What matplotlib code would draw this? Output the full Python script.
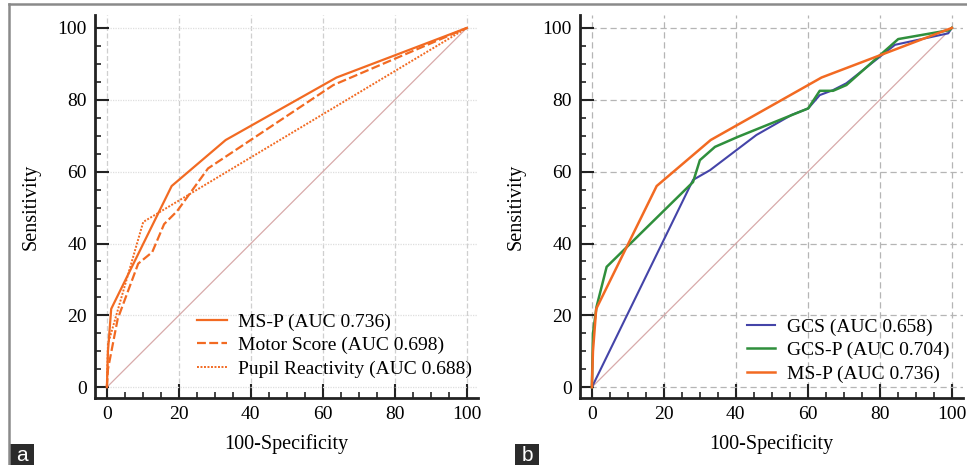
import numpy as np
import matplotlib.pyplot as plt
from matplotlib.ticker import MultipleLocator
from matplotlib.patches import Rectangle
from matplotlib.lines import Line2D

plt.rcParams["font.family"] = ["Liberation Serif", "DejaVu Serif"]

# Panel a curves (100-Specificity, Sensitivity)
msp_x = [0, 0.3, 1.2, 18.0, 33.0, 63.8, 100]
msp_y = [0, 10, 21.8, 56.0, 68.8, 86.2, 100]
motor_x = [0, 0.3, 3.0, 8.7, 12.6, 15.9, 19.5, 28.1, 62.9, 100]
motor_y = [0, 5, 19, 34.4, 37.6, 45.4, 49.0, 60.9, 84.1, 100]
pupil_x = [0, 0.3, 10.1, 100]
pupil_y = [0, 12, 46.0, 100]

# Panel b curves
gcs_x = [0, 28.1, 32.8, 45.7, 55.5, 60.1, 63.3, 67.0, 70.7, 84.2, 99.0, 100]
gcs_y = [0, 57.7, 60.4, 70.2, 75.8, 77.6, 81.3, 82.7, 84.6, 95.3, 98.5, 100]
gcsp_x = [0, 0.3, 1.3, 4.1, 28.1, 30.0, 34.2, 40.6, 60.1, 63.3, 67.0, 70.7, 85.1, 99.4, 100]
gcsp_y = [0, 15, 22.4, 33.5, 57.1, 63.2, 66.9, 69.7, 77.6, 82.5, 82.5, 84.1, 96.9, 99.4, 100]

labels_a = ["MS-P (AUC 0.736)", "Motor Score (AUC 0.698)", "Pupil Reactivity (AUC 0.688)"]
labels_b = ["GCS (AUC 0.658)", "GCS-P (AUC 0.704)", "MS-P (AUC 0.736)"]
ticks = [0, 20, 40, 60, 80, 100]

orange = "#f26a22"
blue = "#4444a8"
green = "#2f8f3c"
diag = "#d8aaaa"

W, H = 967, 465
fig = plt.figure(figsize=(W / 100, H / 100), dpi=100)


def style_axes(ax, panel):
    ax.set_xlim(-3.3, 103.1)
    ax.set_ylim(-3.0, 103.6)
    ax.set_xticks(ticks)
    ax.set_yticks(ticks)
    ax.xaxis.set_minor_locator(MultipleLocator(5))
    ax.yaxis.set_minor_locator(MultipleLocator(5))
    ax.tick_params(which="major", direction="in", length=10, width=1.5, labelsize=14, pad=6, color="#222222")
    ax.tick_params(which="minor", direction="in", length=4, width=1.2, color="#222222")
    for s in ["top", "right"]:
        ax.spines[s].set_visible(False)
    for s in ["left", "bottom"]:
        ax.spines[s].set_linewidth(2)
        ax.spines[s].set_color("#222222")
    if panel == "a":
        ax.xaxis.grid(True, ls=(0, (4, 2)), color="#cfcfcf", lw=0.9)
        ax.yaxis.grid(True, ls=(0, (1, 1)), color="#dedede", lw=0.9)
    else:
        ax.grid(True, ls=(0, (5, 3)), color="#b5b5b5", lw=0.9)
    ax.set_axisbelow(True)
    ax.set_xlabel("100-Specificity", fontsize=14.5, labelpad=8)
    ax.set_ylabel("Sensitivity", fontsize=14.5, labelpad=12)
    ax.plot([0, 100], [0, 100], color=diag, lw=0.9)


ax1 = fig.add_axes([95 / W, 1 - 398 / H, 383 / W, 383 / H])
style_axes(ax1, "a")
ax1.plot(msp_x, msp_y, color=orange, lw=1.6, label=labels_a[0])
ax1.plot(motor_x, motor_y, color=orange, lw=1.6, ls=(0, (4, 1.5)), label=labels_a[1])
ax1.plot(pupil_x, pupil_y, color=orange, lw=1.4, ls=(0, (1, 0.8)), label=labels_a[2])
ax1.legend(loc="upper left", bbox_to_anchor=(197 / W, 1 - 313 / H), bbox_transform=fig.transFigure,
           frameon=False, fontsize=14, borderpad=0, borderaxespad=0, handlelength=1.55,
           handletextpad=0.55, labelspacing=0.3)

ax2 = fig.add_axes([580 / W, 1 - 398 / H, 383 / W, 383 / H])
style_axes(ax2, "b")
ax2.plot(gcs_x, gcs_y, color=blue, lw=1.5, label=labels_b[0])
ax2.plot(gcsp_x, gcsp_y, color=green, lw=1.8, label=labels_b[1])
ax2.plot(msp_x, msp_y, color=orange, lw=1.8, label=labels_b[2])
ax2.legend(loc="upper left", bbox_to_anchor=(747 / W, 1 - 318 / H), bbox_transform=fig.transFigure,
           frameon=False, fontsize=14, borderpad=0, borderaxespad=0, handlelength=1.45,
           handletextpad=0.6, labelspacing=0.3)

# outer frame (top and left edges)
fig.add_artist(Line2D([9 / W, 1], [1 - 4 / H, 1 - 4 / H], transform=fig.transFigure, color="#8a8a8a", lw=1.8))
fig.add_artist(Line2D([9 / W, 9 / W], [0, 1 - 4 / H], transform=fig.transFigure, color="#8a8a8a", lw=1.8))

# panel letters
for x0, letter in [(10, "a"), (515, "b")]:
    fig.add_artist(Rectangle((x0 / W, 0), 24 / W, 21 / H, transform=fig.transFigure,
                             facecolor="#2b2b2b", edgecolor="none"))
    fig.text((x0 + 12) / W, 10 / H, letter, color="white", fontsize=15, ha="center", va="center",
             family=["Liberation Sans", "DejaVu Sans"])

fig.savefig("out.png", dpi=100, facecolor="white")
